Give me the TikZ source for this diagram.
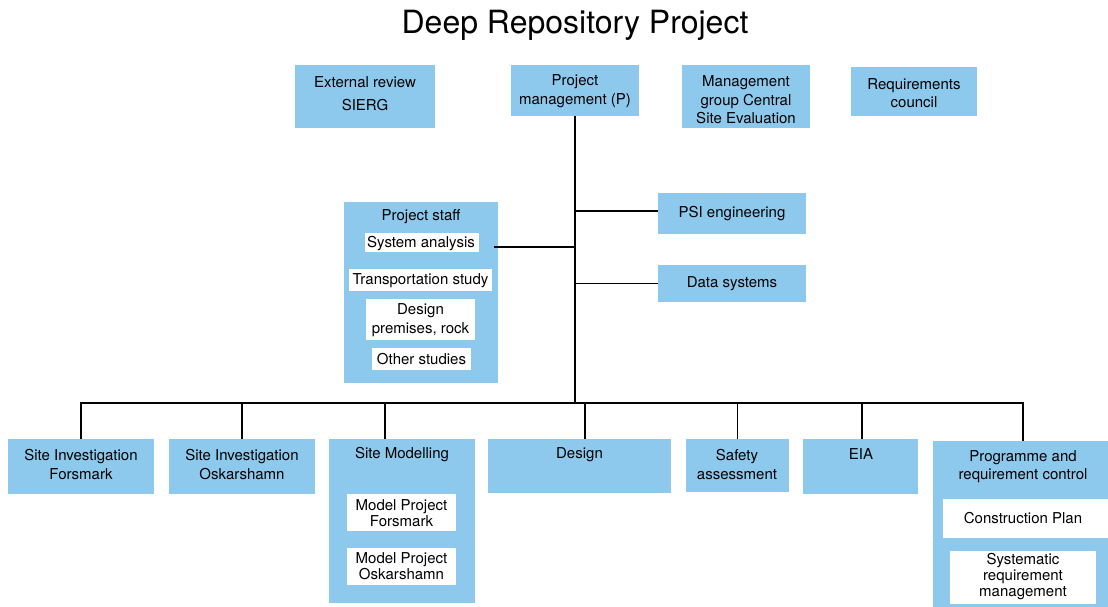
\documentclass[tikz,border=0pt]{standalone}
\usepackage{fontspec}
\setmainfont{TeX Gyre Heros}
\definecolor{boxblue}{RGB}{141,201,236}
\begin{document}
\begin{tikzpicture}[x=1pt,y=-1pt,
  bbox/.style={fill=boxblue, draw=none, inner sep=0pt, anchor=north west, outer sep=0pt},
  wbox/.style={fill=white, draw=none, inner sep=0pt, anchor=north west, outer sep=0pt},
  txt/.style={align=center, inner sep=0pt, font=\fontsize{15}{18.5}\selectfont},
  tight/.style={align=center, inner sep=0pt, font=\fontsize{15}{16}\selectfont},
  wide/.style={align=center, inner sep=0pt, font=\fontsize{15}{23}\selectfont},
  conn/.style={draw=black, line width=1.3pt}]
\useasboundingbox (0,0) rectangle (1108,607);
\node[font=\fontsize{32}{38}\selectfont] (title) at (575,25) {Deep Repository Project};
% top row
\node[bbox, minimum width=140pt, minimum height=63pt] (ext) at (295,65) {};
\node[wide] (extt) at (365,93.5) {External review\\SIERG};
\node[bbox, minimum width=128pt, minimum height=51pt] (pm) at (511,65) {};
\node[txt] (pmt) at (575,91) {Project\\management (P)};
\node[bbox, minimum width=128pt, minimum height=63pt] (mg) at (682,65) {};
\node[txt] (mgt) at (746,100) {Management\\group Central\\Site Evaluation};
\node[bbox, minimum width=126pt, minimum height=49pt] (rc) at (851,67) {};
\node[txt] (rct) at (914,93) {Requirements\\council};
% middle
\node[bbox, minimum width=148pt, minimum height=41pt] (psi) at (658,193) {};
\node[txt] (psit) at (732,214) {PSI engineering};
\node[bbox, minimum width=148pt, minimum height=37pt] (ds) at (658,265) {};
\node[txt] (dst) at (732,283.5) {Data systems};
\node[bbox, minimum width=154pt, minimum height=181pt] (staff) at (344,202) {};
\node[txt] (stafft) at (421,217) {Project staff};
\node[wbox, minimum width=114pt, minimum height=19pt] (sa) at (365,233) {};
\node[txt] (sat) at (421,244) {System analysis};
\node[wbox, minimum width=143pt, minimum height=22pt] (ts) at (349,269) {};
\node[txt] (tst) at (420.5,280.5) {Transportation study};
\node[wbox, minimum width=109pt, minimum height=41pt] (dp) at (366,299) {};
\node[txt] (dpt) at (420.5,320) {Design\\premises, rock};
\node[wbox, minimum width=99pt, minimum height=22pt] (os) at (372,348) {};
\node[txt] (ost) at (421.5,359) {Other studies};
% bottom row
\node[bbox, minimum width=146pt, minimum height=55pt] (sif) at (8,439) {};
\node[txt] (sift) at (81,464.5) {Site Investigation\\Forsmark};
\node[bbox, minimum width=146pt, minimum height=55pt] (sio) at (169,439) {};
\node[txt] (siot) at (242,464.5) {Site Investigation\\Oskarshamn};
\node[bbox, minimum width=146pt, minimum height=164pt] (sm) at (329,439) {};
\node[txt] (smt) at (402,455) {Site Modelling};
\node[wbox, minimum width=109pt, minimum height=37pt] (mpf) at (347,494) {};
\node[tight] (mpft) at (401.5,513) {Model Project\\Forsmark};
\node[wbox, minimum width=109pt, minimum height=37pt] (mpo) at (347,548) {};
\node[tight] (mpot) at (401.5,566.5) {Model Project\\Oskarshamn};
\node[bbox, minimum width=183pt, minimum height=54pt] (des) at (488,439) {};
\node[txt] (dest) at (579.5,455) {Design};
\node[bbox, minimum width=103pt, minimum height=53pt] (saf) at (686,439) {};
\node[txt] (saft) at (737,464.5) {Safety\\assessment};
\node[bbox, minimum width=115pt, minimum height=55pt] (eia) at (803,439) {};
\node[txt] (eiat) at (861,454.5) {EIA};
\node[bbox, minimum width=175pt, minimum height=166pt] (prc) at (933,441) {};
\node[txt] (prct) at (1023,466.5) {Programme and\\requirement control};
\node[wbox, minimum width=165pt, minimum height=39pt] (cp) at (943,499) {};
\node[txt] (cpt) at (1023,518) {Construction Plan};
\node[wbox, minimum width=146pt, minimum height=53pt] (srm) at (950,551) {};
\node[tight] (srmt) at (1023,577) {Systematic\\requirement\\management};
% connectors
\coordinate (bus) at (575,403);
\draw[conn] (pm.south) -- (bus);
\draw[conn] (psi.west) ++(0,-2.5) -- ++(-83,0);
\draw[conn] (ds.west) -- (ds.west -| bus);
\draw[conn] ([xshift=-4pt,yshift=-4.5pt]staff.east |- sa.east) -- ([yshift=-4.5pt]bus |- sa.east);
\draw[conn] (sif.north) |- (bus) -| ([xshift=2.5pt]prc.north);
\draw[conn] (sio.north) -- (sio.north |- bus);
\draw[conn] ([xshift=-17pt]sm.north) -- ([xshift=-17pt]sm.north |- bus);
\draw[conn] ([xshift=5.5pt]des.north) -- ([xshift=5.5pt]des.north |- bus);
\draw[conn] (saf.north) -- (saf.north |- bus);
\draw[conn] ([xshift=1.5pt]eia.north) -- ([xshift=1.5pt]eia.north |- bus);
\end{tikzpicture}
\end{document}
